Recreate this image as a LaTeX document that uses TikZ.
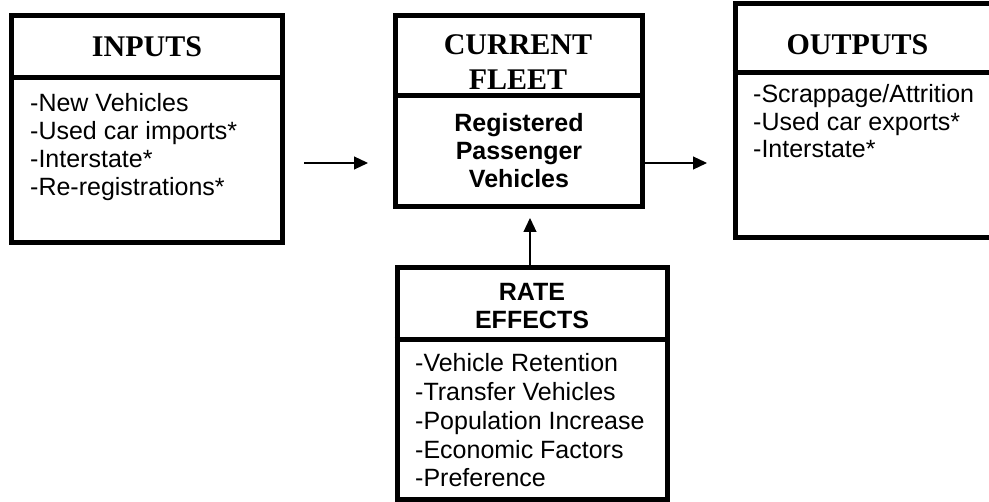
\documentclass[tikz,border=0pt]{standalone}
\usepackage{fontspec}
\setmainfont{Liberation Serif}
\setsansfont{Liberation Sans}
\usetikzlibrary{arrows.meta}
\begin{document}
\begin{tikzpicture}[x=1pt,y=-1pt,
  box/.style={draw=black, line width=5pt, rectangle, inner sep=0pt},
  divider/.style={line width=5pt},
  hdr/.style={font=\fontsize{30}{34.5}\selectfont\rmfamily\bfseries, anchor=base, inner sep=0pt},
  sub/.style={font=\fontsize{25}{28.7}\selectfont\sffamily\bfseries, anchor=base, inner sep=0pt},
  item/.style={font=\fontsize{25}{28.7}\selectfont\sffamily, anchor=base west, inner sep=0pt},
  arr/.style={line width=1.2pt, -{Triangle[length=14pt,width=13pt]}}
]
\useasboundingbox (0,0) rectangle (989,502);
\clip (0,0) rectangle (989,502);

% INPUTS
\node[box, minimum width=271pt, minimum height=227pt] (inputs) at (147,129) {};
\draw[divider] (inputs.west |- 0,78) -- (inputs.east |- 0,78);
\node[hdr] (inh) at (147,57) {INPUTS};
\node[item] (in1) at (30,112) {-New Vehicles};
\node[item] (in2) at (30,140) {-Used car imports*};
\node[item] (in3) at (30,168) {-Interstate*};
\node[item] (in4) at (30,196) {-Re-registrations*};

% CURRENT FLEET
\node[box, minimum width=247pt, minimum height=191pt] (fleet) at (519,111.5) {};
\draw[divider] (fleet.west |- 0,96) -- (fleet.east |- 0,96);
\node[hdr] (fh1) at (518,55) {CURRENT};
\node[hdr] (fh2) at (518,90) {FLEET};
\node[sub] (fs1) at (519,132) {Registered};
\node[sub] (fs2) at (519,160) {Passenger};
\node[sub] (fs3) at (519,188) {Vehicles};

% OUTPUTS
\node[box, minimum width=260pt, minimum height=234pt] (outputs) at (865,121) {};
\draw[divider] (outputs.west |- 0,73) -- (outputs.east |- 0,73);
\node[hdr] (outh) at (857.5,55) {OUTPUTS};
\node[item] (out1) at (753,103) {-Scrappage/Attrition};
\node[item] (out2) at (753,130.5) {-Used car exports*};
\node[item] (out3) at (753,158) {-Interstate*};

% RATE EFFECTS
\node[box, minimum width=270.5pt, minimum height=232.5pt] (rate) at (532.25,383.75) {};
\draw[divider] (rate.west |- 0,339.5) -- (rate.east |- 0,339.5);
\node[sub] (rh1) at (532,301) {RATE};
\node[sub] (rh2) at (532,329) {EFFECTS};
\node[item] (r1) at (415,372) {-Vehicle Retention};
\node[item] (r2) at (415,400.7) {-Transfer Vehicles};
\node[item] (r3) at (415,429.4) {-Population Increase};
\node[item] (r4) at (415,458.1) {-Economic Factors};
\node[item] (r5) at (415,486.8) {-Preference};

% connectors
\coordinate (lev) at (0,163);
\coordinate (ax) at (530,0);
\draw[arr, shorten <=19pt, shorten >=25pt] (inputs.east |- lev) -- (fleet.west |- lev);
\draw[arr, shorten >=25.5pt] (fleet.east |- lev) -- (outputs.west |- lev);
\draw[arr, shorten >=8.5pt] (rate.north -| ax) -- (fleet.south -| ax);
\end{tikzpicture}
\end{document}
